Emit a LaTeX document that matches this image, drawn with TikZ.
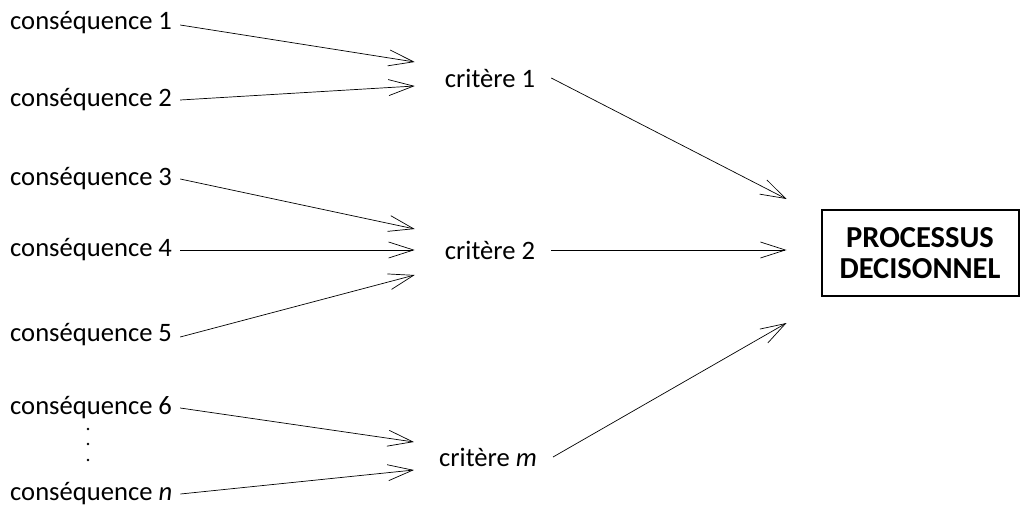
\documentclass[tikz,border=0pt]{standalone}
\usepackage{fontspec}
\setmainfont{Carlito}
\usetikzlibrary{arrows.meta,calc}
\begin{document}
\begin{tikzpicture}[x=1pt,y=-1pt,
  lbl/.style={font=\fontsize{26.6}{30}\selectfont, inner sep=0pt},
  cons/.style={lbl, anchor=west},
  crit/.style={lbl},
  arr/.style={line width=0.7pt, -{Straight Barb[length=25pt,width=16pt,line width=0.7pt]}},
  proc/.style={draw, line width=2pt, minimum width=197pt, minimum height=86pt, align=center,
    font=\fontsize{30.5}{31}\selectfont\bfseries}]
\useasboundingbox (0,0) rectangle (1027,508);
\node[cons] (c1) at (10,23) {conséquence 1};
\node[cons] (c2) at (10,100) {conséquence 2};
\node[cons] (c3) at (10,179) {conséquence 3};
\node[cons] (c4) at (10,250) {conséquence 4};
\node[cons] (c5) at (10,335) {conséquence 5};
\node[cons] (c6) at (10,408) {conséquence 6};
\node[cons] (cn) at (10,494) {conséquence \textit{n}};
\node[crit] (k1) at (490,78) {critère 1};
\node[crit] (k2) at (490,250) {critère 2};
\node[crit] (km) at (488,457) {critère \textit{m}};
\node[proc] (p) at (920,253) {PROCESSUS\\DECISONNEL};
\foreach \yy [count=\i] in {429,444,460} \fill (88,\yy) circle (1.4pt) coordinate (d\i);
\draw[arr] ([xshift=8pt,yshift=-2pt]c1.east) -- ([xshift=-30pt,yshift=16pt]k1.west);
\draw[arr] ([xshift=8pt]c2.east) -- ([xshift=-30pt,yshift=-8pt]k1.west);
\draw[arr] ([xshift=8pt]c3.east) -- ([xshift=-30pt,yshift=21pt]k2.west);
\draw[arr] ([xshift=8pt]c4.east) -- ([xshift=-30pt]k2.west);
\draw[arr] ([xshift=8pt,yshift=-2pt]c5.east) -- ([xshift=-30pt,yshift=-25pt]k2.west);
\draw[arr] ([xshift=8pt]c6.east) -- ([xshift=-25pt,yshift=15pt]km.west);
\draw[arr] ([xshift=8pt]cn.east) -- ([xshift=-25pt,yshift=-13pt]km.west);
\draw[arr] ([xshift=16pt]k1.east) -- ([xshift=-34pt,yshift=54pt]p.west);
\draw[arr] ([xshift=16pt]k2.east) -- ([xshift=-34pt,yshift=3pt]p.west);
\draw[arr] ([xshift=16pt]km.east) -- ([xshift=-34pt,yshift=-70pt]p.west);
\end{tikzpicture}
\end{document}
